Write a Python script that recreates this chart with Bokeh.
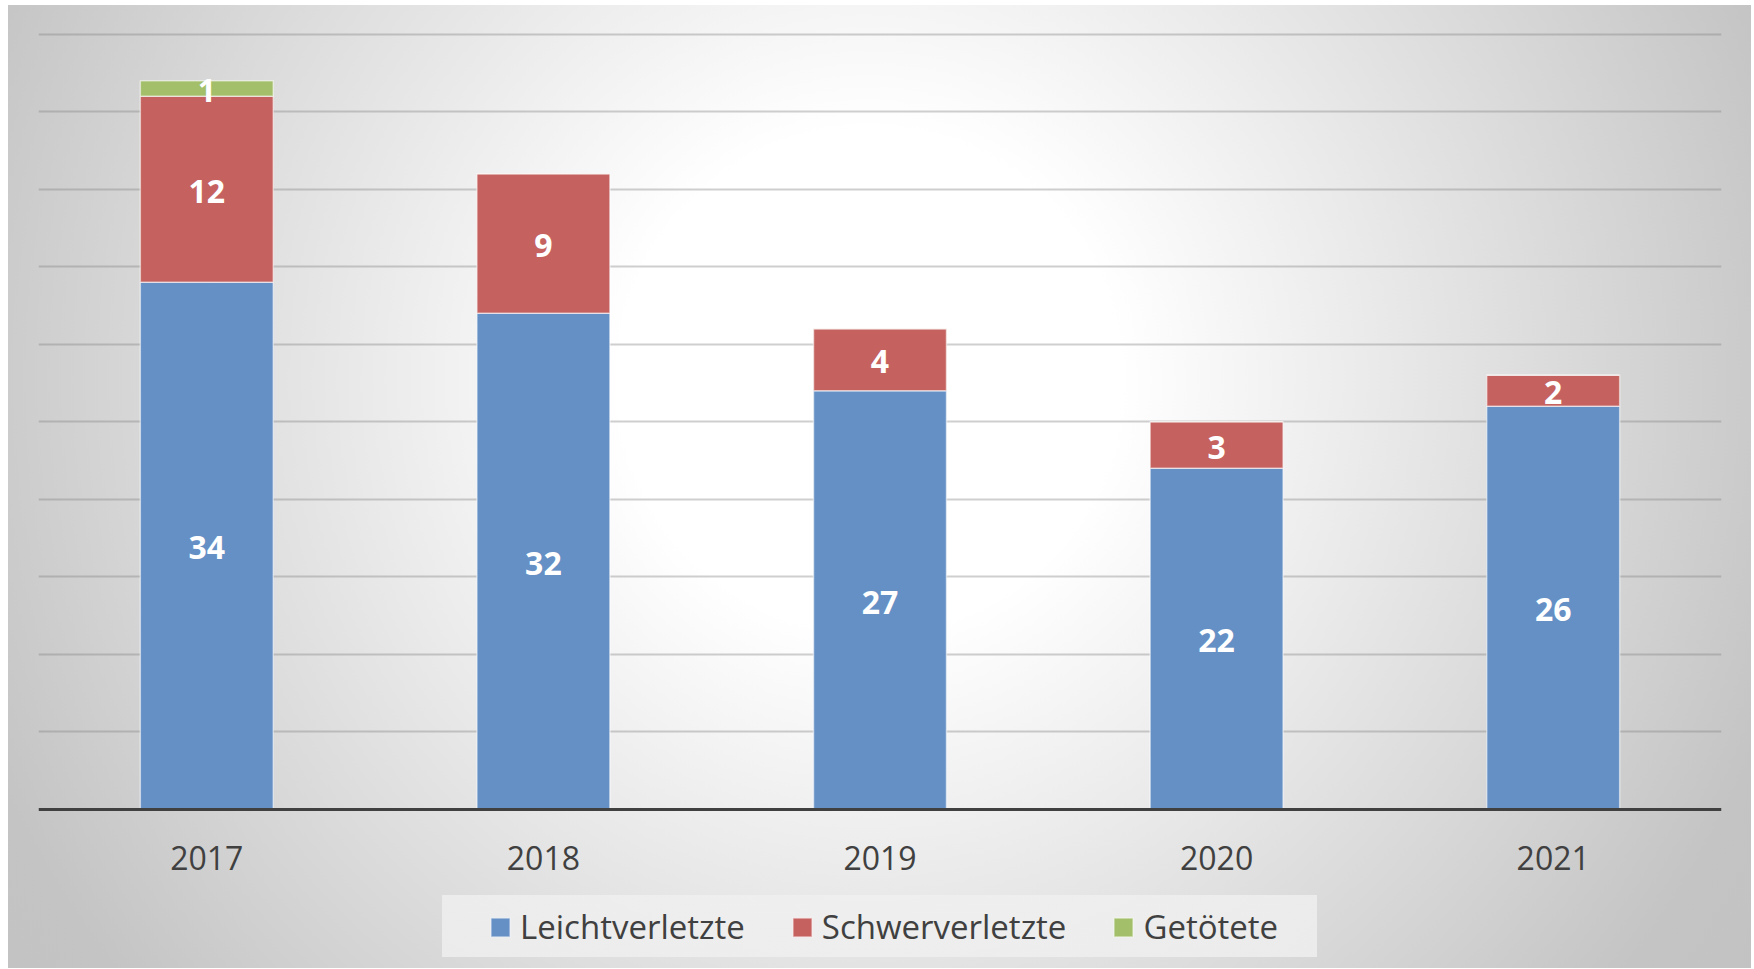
from bokeh.plotting import figure
from bokeh.models import FactorRange, Range1d, Legend, LegendItem, Grid, FixedTicker, ColumnDataSource
from bokeh.core.properties import value
from bokeh.embed import file_html
from bokeh.resources import INLINE

# ---- data ----
years = ["2017", "2018", "2019", "2020", "2021"]
leichtverletzte = [34, 32, 27, 22, 26]
schwerverletzte = [12, 9, 4, 3, 2]
getoetete = [1, 0, 0, 0, 0]
series_names = ["Leichtverletzte", "Schwerverletzte", "Getötete"]
grid_ticks = [5, 10, 15, 20, 25, 30, 35, 40, 45, 50]

# ---- styles ----
colors = ["#6590C5", "#C5625F", "#A3BF6A"]
FONT = "Open Sans"
W, H = 1752, 968

src = ColumnDataSource(dict(year=years, leicht=leichtverletzte,
                            schwer=schwerverletzte, tot=getoetete))

# frame reaches the bottom of the page; the category axis sits at y = 0
p = figure(x_range=FactorRange(*years, range_padding=0, factor_padding=0),
           y_range=Range1d(-10.258, 50.5),
           width=W, height=H,
           output_backend="svg", toolbar_location=None,
           y_axis_location=None,
           min_border_left=38, min_border_right=31,
           min_border_top=26, min_border_bottom=0)

p.background_fill_color = None
p.border_fill_color = None
p.outline_line_color = None
p.styles = {
    "background": (
        "linear-gradient(rgba(240,240,240,0.8), rgba(240,240,240,0.8)) "
        "442px 895px / 875px 62px no-repeat, "
        "radial-gradient(circle at 862px 375px, #ffffff 0px, #ffffff 250px, "
        "#c4c4c4 960px, #c2c2c2 1100px) 8px 5px / 1743px 963px no-repeat, "
        "#ffffff"
    )
}

p.xgrid.visible = False
for g in p.ygrid:
    g.visible = False
grid = Grid(dimension=1, ticker=FixedTicker(ticks=grid_ticks),
            grid_line_color="#808080", grid_line_alpha=0.38, grid_line_width=2)
p.add_layout(grid)

renderers = p.vbar_stack(["leicht", "schwer", "tot"], x="year", width=0.395,
                         color=colors, source=src,
                         line_color="white", line_alpha=0.55, line_width=1.5)

# segment labels
lx, ly, lt = [], [], []
for i, yr in enumerate(years):
    bottom = 0
    for vals in (leichtverletzte, schwerverletzte, getoetete):
        v = vals[i]
        if v > 0:
            lx.append(yr)
            ly.append(bottom + v / 2)
            lt.append(str(v))
        bottom += v
lab = ColumnDataSource(dict(x=lx, y=ly, t=lt))
p.text(x="x", y="y", text="t", source=lab, text_color="white",
       text_font=value(FONT), text_font_style="bold", text_font_size="32px",
       text_align="center", text_baseline="middle", y_offset=2)

ax = p.xaxis[0]
ax.fixed_location = 0
ax.major_label_text_font = FONT
ax.major_label_text_font_size = "32px"
ax.major_label_text_color = "#404040"
ax.axis_line_color = "#404040"
ax.axis_line_width = 3
ax.major_tick_line_color = None
ax.minor_tick_line_color = None
ax.major_tick_out = 0
ax.major_tick_in = 0
ax.major_label_standoff = 37

items = [LegendItem(label=n, renderers=[r]) for n, r in zip(series_names, renderers)]
legend = Legend(items=items, orientation="horizontal", location=(450, 19),
                padding=10, spacing=45, glyph_width=24, glyph_height=24,
                label_standoff=8, label_text_font=FONT,
                label_text_font_size="33px", label_text_color="#404040",
                background_fill_alpha=0, border_line_color=None, margin=0)
p.add_layout(legend)

open("out.html", "w").write(file_html(p, INLINE, title="Verletzte"))
